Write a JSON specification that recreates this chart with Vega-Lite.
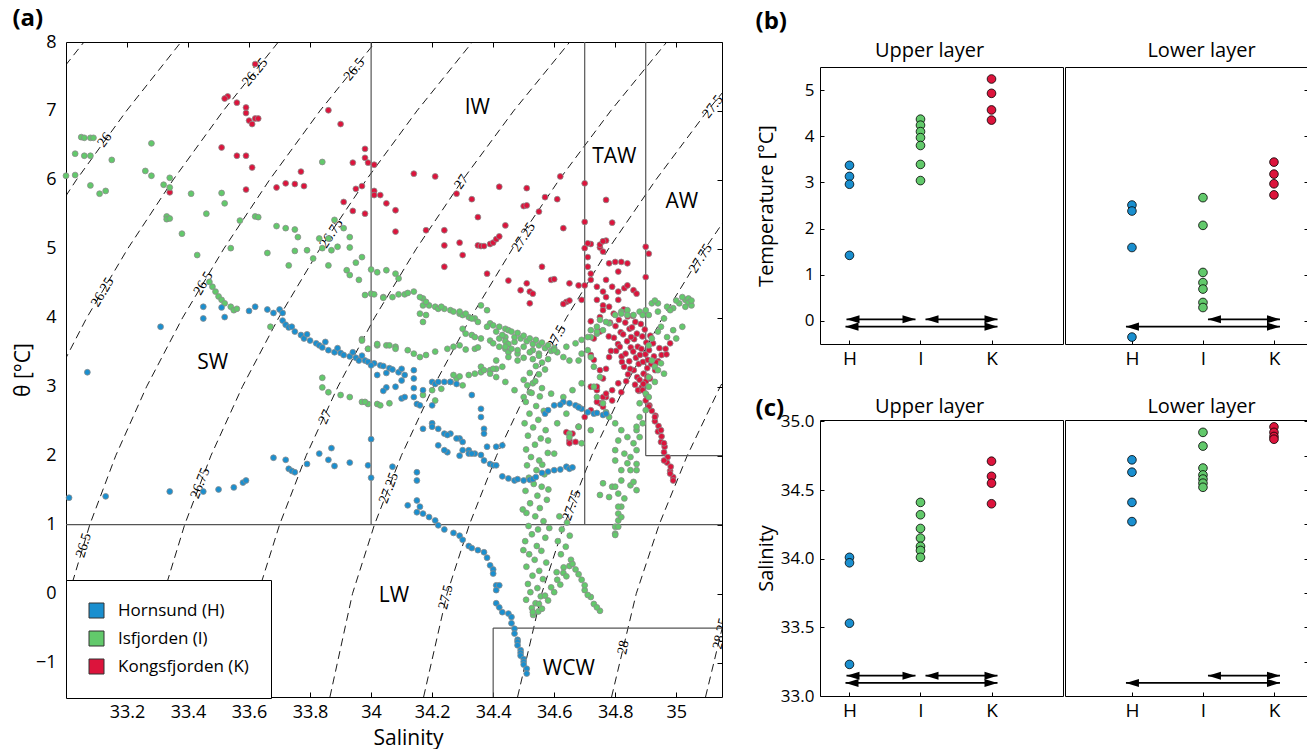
{
"$schema":"https://vega.github.io/schema/vega-lite/v6.json",
"background":"white",
"padding":{"left":11,"top":6,"right":0,"bottom":0},
"config":{
 "font":"Open Sans",
 "view":{"stroke":"black","strokeWidth":1},
 "axis":{"grid":false,"domain":false,"labelColor":"black","titleColor":"black","tickColor":"black","labelFont":"Open Sans","titleFont":"Open Sans","titleFontWeight":"normal"},
 "title":{"font":"Open Sans","color":"black"}
},
"datasets":{
 "iso":[
  {"sig":"25.75","s":32.718,"t":6},{"sig":"25.75","s":32.88,"t":7},{"sig":"25.75","s":33.059,"t":8},
  {"sig":"26","s":32.753,"t":4},{"sig":"26","s":32.886,"t":5},{"sig":"26","s":33.034,"t":6},{"sig":"26","s":33.198,"t":7},{"sig":"26","s":33.377,"t":8},
  {"sig":"26.25","s":32.851,"t":2},{"sig":"26.25","s":32.951,"t":3},{"sig":"26.25","s":33.068,"t":4},{"sig":"26.25","s":33.202,"t":5},{"sig":"26.25","s":33.351,"t":6},{"sig":"26.25","s":33.515,"t":7},{"sig":"26.25","s":33.696,"t":8},
  {"sig":"26.5","s":32.941,"t":-1.5},{"sig":"26.5","s":33.01,"t":0},{"sig":"26.5","s":33.078,"t":1},{"sig":"26.5","s":33.163,"t":2},{"sig":"26.5","s":33.264,"t":3},{"sig":"26.5","s":33.382,"t":4},{"sig":"26.5","s":33.517,"t":5},{"sig":"26.5","s":33.667,"t":6},{"sig":"26.5","s":33.832,"t":7},{"sig":"26.5","s":34.014,"t":8},
  {"sig":"26.75","s":33.249,"t":-1.5},{"sig":"26.75","s":33.32,"t":0},{"sig":"26.75","s":33.389,"t":1},{"sig":"26.75","s":33.475,"t":2},{"sig":"26.75","s":33.578,"t":3},{"sig":"26.75","s":33.697,"t":4},{"sig":"26.75","s":33.832,"t":5},{"sig":"26.75","s":33.984,"t":6},{"sig":"26.75","s":34.15,"t":7},{"sig":"26.75","s":34.332,"t":8},
  {"sig":"27","s":33.557,"t":-1.5},{"sig":"27","s":33.629,"t":0},{"sig":"27","s":33.7,"t":1},{"sig":"27","s":33.787,"t":2},{"sig":"27","s":33.891,"t":3},{"sig":"27","s":34.011,"t":4},{"sig":"27","s":34.148,"t":5},{"sig":"27","s":34.3,"t":6},{"sig":"27","s":34.467,"t":7},{"sig":"27","s":34.651,"t":8},
  {"sig":"27.25","s":33.865,"t":-1.5},{"sig":"27.25","s":33.939,"t":0},{"sig":"27.25","s":34.011,"t":1},{"sig":"27.25","s":34.099,"t":2},{"sig":"27.25","s":34.204,"t":3},{"sig":"27.25","s":34.326,"t":4},{"sig":"27.25","s":34.463,"t":5},{"sig":"27.25","s":34.616,"t":6},{"sig":"27.25","s":34.785,"t":7},{"sig":"27.25","s":34.969,"t":8},
  {"sig":"27.5","s":34.172,"t":-1.5},{"sig":"27.5","s":34.249,"t":0},{"sig":"27.5","s":34.322,"t":1},{"sig":"27.5","s":34.411,"t":2},{"sig":"27.5","s":34.518,"t":3},{"sig":"27.5","s":34.64,"t":4},{"sig":"27.5","s":34.778,"t":5},{"sig":"27.5","s":34.933,"t":6},{"sig":"27.5","s":35.102,"t":7},{"sig":"27.5","s":35.288,"t":8},
  {"sig":"27.75","s":34.48,"t":-1.5},{"sig":"27.75","s":34.559,"t":0},{"sig":"27.75","s":34.633,"t":1},{"sig":"27.75","s":34.723,"t":2},{"sig":"27.75","s":34.831,"t":3},{"sig":"27.75","s":34.955,"t":4},{"sig":"27.75","s":35.094,"t":5},{"sig":"27.75","s":35.249,"t":6},
  {"sig":"28","s":34.788,"t":-1.5},{"sig":"28","s":34.869,"t":0},{"sig":"28","s":34.944,"t":1},{"sig":"28","s":35.036,"t":2},{"sig":"28","s":35.144,"t":3},{"sig":"28","s":35.269,"t":4},
  {"sig":"28.25","s":35.096,"t":-1.5},{"sig":"28.25","s":35.178,"t":0}
 ],
 "isolab":[
  {"lab":"26","s":33.127,"t":6.58},{"lab":"26.25","s":33.62,"t":7.56},{"lab":"26.25","s":33.12,"t":4.37},
  {"lab":"26.5","s":33.945,"t":7.6},{"lab":"26.5","s":33.45,"t":4.5},{"lab":"26.5","s":33.058,"t":0.7},
  {"lab":"26.75","s":33.87,"t":5.22},{"lab":"26.75","s":33.44,"t":1.6},
  {"lab":"27","s":34.296,"t":5.97},{"lab":"27","s":33.85,"t":2.56},
  {"lab":"27.25","s":34.5,"t":5.17},{"lab":"27.25","s":34.058,"t":1.53},
  {"lab":"27.5","s":35.12,"t":7.06},{"lab":"27.5","s":34.608,"t":3.72},{"lab":"27.5","s":34.245,"t":-0.05},
  {"lab":"27.75","s":35.08,"t":4.86},{"lab":"27.75","s":34.658,"t":1.28},
  {"lab":"28","s":34.827,"t":-0.78},{"lab":"28.25","s":35.146,"t":-0.58}
 ],
 "box":[
  {"s":33,"s2":35.15,"t":1,"t2":1},{"s":34,"s2":34,"t":1,"t2":8},{"s":34.7,"s2":34.7,"t":1,"t2":8},
  {"s":34.9,"s2":34.9,"t":2,"t2":8},{"s":34.9,"s2":35.15,"t":2,"t2":2},
  {"s":34.4,"s2":34.4,"t":-1.5,"t2":-0.5},{"s":34.4,"s2":35.15,"t":-0.5,"t2":-0.5}
 ],
 "wm":[
  {"name":"IW","s":34.348,"t":7.04},{"name":"TAW","s":34.797,"t":6.33},{"name":"AW","s":35.018,"t":5.68},
  {"name":"SW","s":33.481,"t":3.34},{"name":"LW","s":34.075,"t":-0.03},{"name":"WCW","s":34.648,"t":-1.09}
 ],
 "pts":[
  {"p":"bU","f":"H","v":3.37},{"p":"bU","f":"H","v":3.13},{"p":"bU","f":"H","v":2.96},{"p":"bU","f":"H","v":1.42},
  {"p":"bU","f":"I","v":4.37},{"p":"bU","f":"I","v":4.24},{"p":"bU","f":"I","v":4.1},{"p":"bU","f":"I","v":3.97},{"p":"bU","f":"I","v":3.8},{"p":"bU","f":"I","v":3.39},{"p":"bU","f":"I","v":3.04},
  {"p":"bU","f":"K","v":5.24},{"p":"bU","f":"K","v":4.93},{"p":"bU","f":"K","v":4.57},{"p":"bU","f":"K","v":4.35},
  {"p":"bL","f":"H","v":2.51},{"p":"bL","f":"H","v":2.38},{"p":"bL","f":"H","v":1.59},{"p":"bL","f":"H","v":-0.35},
  {"p":"bL","f":"I","v":2.67},{"p":"bL","f":"I","v":2.07},{"p":"bL","f":"I","v":1.05},{"p":"bL","f":"I","v":0.83},{"p":"bL","f":"I","v":0.69},{"p":"bL","f":"I","v":0.4},{"p":"bL","f":"I","v":0.29},
  {"p":"bL","f":"K","v":3.44},{"p":"bL","f":"K","v":3.18},{"p":"bL","f":"K","v":2.97},{"p":"bL","f":"K","v":2.73},
  {"p":"cU","f":"H","v":34.01},{"p":"cU","f":"H","v":33.97},{"p":"cU","f":"H","v":33.53},{"p":"cU","f":"H","v":33.23},
  {"p":"cU","f":"I","v":34.41},{"p":"cU","f":"I","v":34.32},{"p":"cU","f":"I","v":34.22},{"p":"cU","f":"I","v":34.15},{"p":"cU","f":"I","v":34.09},{"p":"cU","f":"I","v":34.06},{"p":"cU","f":"I","v":34.01},
  {"p":"cU","f":"K","v":34.71},{"p":"cU","f":"K","v":34.6},{"p":"cU","f":"K","v":34.55},{"p":"cU","f":"K","v":34.4},
  {"p":"cL","f":"H","v":34.72},{"p":"cL","f":"H","v":34.63},{"p":"cL","f":"H","v":34.41},{"p":"cL","f":"H","v":34.27},
  {"p":"cL","f":"I","v":34.92},{"p":"cL","f":"I","v":34.82},{"p":"cL","f":"I","v":34.66},{"p":"cL","f":"I","v":34.61},{"p":"cL","f":"I","v":34.58},{"p":"cL","f":"I","v":34.55},{"p":"cL","f":"I","v":34.52},
  {"p":"cL","f":"K","v":34.96},{"p":"cL","f":"K","v":34.92},{"p":"cL","f":"K","v":34.89},{"p":"cL","f":"K","v":34.87}
 ],
 "arr":[
  {"p":"bU","ty":"HI","a":"H","b":"I","y":0.035},{"p":"bU","ty":"IK","a":"I","b":"K","y":0.035},{"p":"bU","ty":"HK","a":"H","b":"K","y":-0.124},
  {"p":"bL","ty":"IK","a":"I","b":"K","y":0.035},{"p":"bL","ty":"HK","a":"H","b":"K","y":-0.124},
  {"p":"cU","ty":"HI","a":"H","b":"I","y":33.148},{"p":"cU","ty":"IK","a":"I","b":"K","y":33.148},{"p":"cU","ty":"HK","a":"H","b":"K","y":33.095},
  {"p":"cL","ty":"IK","a":"I","b":"K","y":33.148},{"p":"cL","ty":"HK","a":"H","b":"K","y":33.095}
 ]
},
"spacing":31,
"hconcat":[
 {
  "width":656,"height":655,
  "title":{"text":"(a)","anchor":"start","frame":"bounds","fontSize":24,"fontWeight":"bold","offset":2},
  "resolve":{"axis":{"x":"independent","y":"independent"}},
  "layer":[
   {"data":{"name":"iso"},"mark":{"type":"line","clip":true,"color":"black","strokeWidth":0.9,"strokeDash":[8,5]},
    "encoding":{
     "x":{"field":"s","type":"quantitative","scale":{"domain":[33,35.15],"nice":false,"zero":false},"axis":{"orient":"bottom","values":[33.2,33.4,33.6,33.8,34,34.2,34.4,34.6,34.8,35],"format":"~g","title":"Salinity","labelFontSize":18,"titleFontSize":21,"tickSize":-5,"labelPadding":11,"titlePadding":6,"titleX":342}},
     "y":{"field":"t","type":"quantitative","scale":{"domain":[-1.5,8],"nice":false,"zero":false},"axis":{"orient":"left","values":[-1,0,1,2,3,4,5,6,7,8],"ticks":false,"labelPadding":10,"labelFontSize":18,"title":"θ [°C]","titleFontSize":21,"titlePadding":2}},
     "detail":{"field":"sig","type":"nominal"}
    }},
   {"data":{"name":"box"},"mark":{"type":"rule","color":"#555555","strokeWidth":1.2},
    "encoding":{
     "x":{"field":"s","type":"quantitative","axis":{"orient":"top","values":[33.2,33.4,33.6,33.8,34,34.2,34.4,34.6,34.8,35],"labels":false,"tickSize":-5,"title":null}},
     "x2":{"field":"s2"},
     "y":{"field":"t","type":"quantitative","axis":{"orient":"right","values":[-1,0,1,2,3,4,5,6,7,8],"labels":false,"tickSize":-5,"title":null}},
     "y2":{"field":"t2"}
    }},
   {"data":{"name":"isolab"},"mark":{"type":"text","font":"Liberation Serif","fontSize":14,"clip":true,"baseline":"middle","align":"center","color":"black"},
    "encoding":{
     "x":{"field":"s","type":"quantitative","axis":null},
     "y":{"field":"t","type":"quantitative","axis":null},
     "text":{"field":"lab","type":"nominal"},
     "angle":{"field":"t","type":"quantitative","scale":{"domain":[-0.75,0.7,1.5,2.5,3.5,4.5,5.5,6.5,7.5],"range":[281.6,287,291,295,298,301,304,306.5,309],"clamp":true},"legend":null}
    }},
   {"data":{"values":"f,s,t\nK,33.53,7.21\nK,33.52,7.18\nK,33.56,7.12\nK,33.59,7.05\nK,33.59,6.97\nK,33.60,6.86\nK,33.61,6.81\nK,33.62,6.89\nK,33.63,6.89\nK,33.62,7.68\nK,33.51,6.47\nK,33.56,6.35\nK,33.59,6.35\nK,33.61,6.18\nK,33.59,5.86\nK,33.69,5.89\nK,33.72,5.95\nK,33.75,5.94\nK,33.77,6.12\nK,33.78,5.91\nK,33.86,7.01\nK,33.90,6.81\nK,33.94,6.25\nK,33.97,5.91\nK,33.95,5.87\nK,33.98,6.45\nK,33.98,6.32\nK,33.99,6.25\nK,34.01,6.22\nK,33.91,5.68\nK,33.94,5.55\nK,33.98,5.51\nK,34.01,5.84\nK,34.01,5.78\nK,34.03,5.78\nK,34.05,5.66\nK,34.08,5.56\nK,34.08,5.25\nK,33.34,5.82\nK,34.14,6.09\nK,34.21,6.05\nK,34.28,5.80\nK,34.33,5.72\nK,34.35,5.46\nK,34.42,5.90\nK,34.51,5.88\nK,34.50,5.62\nK,34.51,5.63\nK,34.55,5.54\nK,34.57,5.75\nK,34.61,5.72\nK,34.62,6.05\nK,34.63,5.30\nK,34.70,5.95\nK,34.70,5.39\nK,34.77,5.71\nK,34.79,5.38\nK,34.77,5.12\nK,34.72,5.07\nK,34.70,5.01\nK,34.71,4.88\nK,34.75,5.02\nK,34.76,4.96\nK,34.90,5.03\nK,34.91,4.93\nK,34.18,5.27\nK,34.24,5.27\nK,34.24,5.05\nK,34.29,5.09\nK,34.30,4.91\nK,34.35,5.05\nK,34.36,5.04\nK,34.37,5.04\nK,34.39,5.07\nK,34.40,5.09\nK,34.41,5.14\nK,34.42,5.18\nK,34.44,5.34\nK,34.24,4.74\nK,34.38,4.64\nK,34.45,4.54\nK,34.49,4.40\nK,34.51,4.50\nK,34.52,4.21\nK,34.52,4.38\nK,34.53,4.35\nK,34.56,4.74\nK,34.59,4.55\nK,34.60,4.56\nK,34.65,4.50\nK,34.68,4.47\nK,34.69,4.26\nK,34.64,4.23\nK,34.65,4.25\nK,34.63,4.20\nK,34.70,4.47\nK,34.71,5.08\nK,34.75,5.06\nK,34.76,5.11\nK,34.71,4.74\nK,34.72,4.64\nK,34.72,4.55\nK,34.74,4.45\nK,34.76,4.38\nK,34.77,4.30\nK,34.78,4.79\nK,34.80,4.81\nK,34.82,4.81\nK,34.84,4.79\nK,34.81,4.67\nK,34.77,4.55\nK,34.79,4.45\nK,34.81,4.38\nK,34.83,4.43\nK,34.84,4.47\nK,34.86,4.40\nK,34.87,4.35\nK,34.74,4.26\nK,34.76,4.18\nK,34.78,4.16\nK,34.81,4.26\nK,34.76,4.11\nK,34.75,4.01\nK,34.90,4.59\nK,34.795,4.06\nK,34.812,3.97\nK,34.801,3.88\nK,34.818,3.79\nK,34.796,3.71\nK,34.809,3.62\nK,34.803,3.52\nK,34.821,3.44\nK,34.828,4.12\nK,34.841,4.02\nK,34.833,3.93\nK,34.847,3.84\nK,34.826,3.76\nK,34.839,3.66\nK,34.851,3.57\nK,34.834,3.48\nK,34.846,3.37\nK,34.829,3.29\nK,34.842,3.18\nK,34.836,3.08\nK,34.858,4.03\nK,34.866,3.94\nK,34.855,3.86\nK,34.871,3.77\nK,34.862,3.69\nK,34.874,3.58\nK,34.859,3.51\nK,34.868,3.42\nK,34.877,3.33\nK,34.861,3.24\nK,34.872,3.14\nK,34.865,3.03\nK,34.878,2.94\nK,34.884,3.91\nK,34.897,3.83\nK,34.889,3.73\nK,34.902,3.64\nK,34.886,3.55\nK,34.899,3.47\nK,34.891,3.36\nK,34.905,3.27\nK,34.893,3.19\nK,34.901,3.08\nK,34.887,2.99\nK,34.915,3.74\nK,34.924,3.63\nK,34.911,3.53\nK,34.927,3.44\nK,34.918,3.33\nK,34.931,3.24\nK,34.914,3.12\nK,34.945,3.56\nK,34.952,3.46\nK,34.941,3.37\nK,34.968,3.47\nK,34.783,3.93\nK,34.779,3.73\nK,34.786,3.52\nK,34.815,3.58\nK,34.852,3.72\nK,34.881,3.46\nK,34.907,3.39\nK,34.822,3.36\nK,34.849,3.26\nK,34.875,2.95\nK,34.905,3.15\nK,34.935,3.35\nK,34.965,3.55\nK,34.98,3.63\nK,34.88,3.10\nK,34.89,2.95\nK,34.90,2.80\nK,34.92,2.65\nK,34.93,2.50\nK,34.94,2.35\nK,34.95,2.20\nK,34.96,2.05\nK,34.97,1.90\nK,34.98,1.78\nK,34.99,1.69\nK,34.892,3.04\nK,34.902,2.88\nK,34.912,2.73\nK,34.932,2.58\nK,34.942,2.43\nK,34.952,2.28\nK,34.962,2.13\nK,34.972,1.98\nK,34.982,1.84\nK,34.91,2.71\nK,34.93,2.56\nK,34.95,2.37\nK,34.96,2.18\nK,34.96,1.93\nK,34.98,1.74\nK,34.99,1.64\nK,34.77,2.85\nK,34.75,2.76\nK,34.72,2.66\nK,34.70,2.56\nK,34.68,2.42\nK,34.66,2.32\nK,34.65,2.22\nK,34.64,2.34\nK,34.65,2.18\nK,34.67,2.20\nK,34.72,3.00\nK,34.74,2.95\nK,34.76,2.85\nK,34.74,2.78\nK,34.76,2.71\nK,34.77,2.61\nK,34.79,2.95\nK,34.81,3.05\nK,34.79,2.80\nK,34.82,2.92\nK,34.72,3.46\nK,34.73,3.39\nK,34.78,3.43\nK,34.75,3.24\nK,34.77,3.26\nK,34.76,3.12\nK,34.74,3.00\nK,34.77,2.90\nK,34.73,3.70\nK,34.75,3.80\nK,34.72,3.95\nI,33.00,6.06\nI,33.03,6.07\nI,33.03,6.38\nI,33.05,6.62\nI,33.06,6.61\nI,33.08,6.61\nI,33.09,6.61\nI,33.06,6.35\nI,33.08,6.35\nI,33.08,5.92\nI,33.11,5.80\nI,33.13,5.84\nI,33.15,6.29\nI,33.28,6.53\nI,33.26,6.13\nI,33.28,6.06\nI,33.34,6.03\nI,33.32,5.93\nI,33.34,5.89\nI,33.33,5.47\nI,33.33,5.43\nI,33.34,5.44\nI,33.38,5.22\nI,33.41,5.80\nI,33.43,4.91\nI,33.46,5.51\nI,33.51,5.81\nI,33.52,5.66\nI,33.54,5.01\nI,33.57,5.41\nI,33.62,5.47\nI,33.63,5.46\nI,33.66,4.94\nI,33.69,5.33\nI,33.72,5.30\nI,33.75,5.28\nI,33.76,5.17\nI,33.75,4.97\nI,33.79,4.98\nI,33.81,4.86\nI,33.83,5.15\nI,33.84,5.01\nI,33.84,6.26\nI,33.86,5.15\nI,33.87,4.98\nI,33.88,5.42\nI,33.89,5.03\nI,33.91,5.30\nI,33.93,5.17\nI,33.93,5.02\nI,33.97,4.88\nI,33.47,4.52\nI,33.48,4.45\nI,33.49,4.38\nI,33.50,4.31\nI,33.51,4.26\nI,33.52,4.21\nI,33.54,4.16\nI,33.55,4.11\nI,33.56,4.13\nI,33.67,3.87\nI,33.73,4.76\nI,33.86,4.76\nI,33.92,4.69\nI,33.93,4.62\nI,33.96,4.55\nI,33.98,4.33\nI,34.00,4.35\nI,34.04,4.30\nI,34.07,4.30\nI,34.05,4.69\nI,34.08,4.64\nI,34.09,4.57\nI,33.95,4.80\nI,34.00,4.70\nI,34.02,4.66\nI,33.84,3.13\nI,33.84,2.99\nI,33.86,2.92\nI,33.90,2.88\nI,33.93,2.85\nI,33.97,3.69\nI,33.99,3.55\nI,34.02,3.60\nI,34.05,3.60\nI,33.97,2.78\nI,33.99,2.75\nI,34.02,2.75\nI,34.06,2.76\nI,34.08,3.58\nI,34.01,4.34\nI,34.04,4.29\nI,34.09,4.34\nI,34.11,4.34\nI,34.12,4.36\nI,34.14,4.38\nI,34.17,4.28\nI,34.17,4.18\nI,34.19,4.18\nI,34.21,4.16\nI,34.22,4.13\nI,34.24,4.13\nI,34.26,4.11\nI,34.27,4.09\nI,34.29,4.06\nI,34.30,4.04\nI,34.32,4.01\nI,34.34,3.99\nI,34.36,4.18\nI,34.38,4.11\nI,34.39,3.92\nI,34.40,3.89\nI,34.42,3.87\nI,34.44,3.84\nI,34.45,3.82\nI,34.16,4.06\nI,34.18,4.04\nI,34.17,3.94\nI,34.30,3.84\nI,34.31,3.77\nI,34.33,3.75\nI,34.34,3.72\nI,34.36,3.70\nI,34.39,3.67\nI,34.40,3.63\nI,34.42,3.58\nI,34.44,3.55\nI,34.45,3.50\nI,34.32,3.17\nI,34.34,3.19\nI,34.36,3.21\nI,34.39,3.24\nI,34.41,3.26\nI,34.43,3.29\nI,34.06,3.60\nI,34.08,3.55\nI,34.12,3.53\nI,34.14,3.48\nI,34.16,3.43\nI,34.18,3.46\nI,34.21,3.51\nI,34.25,3.55\nI,34.27,3.58\nI,34.29,3.60\nI,34.31,3.54\nI,34.34,3.55\nI,34.35,3.57\nI,33.99,3.55\nI,34.02,3.62\nI,33.97,3.67\nI,33.98,2.78\nI,34.03,2.73\nI,34.17,2.88\nI,34.20,2.95\nI,34.23,2.97\nI,34.26,3.07\nI,34.28,3.12\nI,34.30,3.02\nI,34.21,2.80\nI,34.16,4.30\nI,34.18,4.23\nI,34.23,4.16\nI,34.29,4.09\nI,34.31,4.06\nI,34.33,3.99\nI,34.35,3.94\nI,34.38,3.87\nI,34.41,3.80\nI,34.44,3.72\nI,34.47,3.65\nI,34.50,3.58\nI,34.53,3.53\nI,34.55,3.48\nI,34.46,3.80\nI,34.47,3.72\nI,34.48,3.78\nI,34.49,3.70\nI,34.50,3.74\nI,34.51,3.66\nI,34.52,3.70\nI,34.53,3.62\nI,34.54,3.68\nI,34.55,3.60\nI,34.56,3.64\nI,34.57,3.56\nI,34.58,3.60\nI,34.59,3.52\nI,34.60,3.56\nI,34.61,3.50\nI,34.46,3.55\nI,34.48,3.48\nI,34.50,3.42\nI,34.52,3.50\nI,34.53,3.40\nI,34.55,3.45\nI,34.56,3.35\nI,34.58,3.40\nI,34.54,3.30\nI,34.52,3.20\nI,34.55,3.18\nI,34.57,3.25\nI,34.50,3.10\nI,34.53,3.05\nI,34.56,2.98\nI,34.52,2.92\nI,34.42,3.70\nI,34.44,3.66\nI,34.43,3.75\nI,34.45,3.62\nI,34.36,3.29\nI,34.39,3.19\nI,34.41,3.14\nI,34.44,3.07\nI,34.47,2.95\nI,34.50,2.85\nI,34.41,3.38\nI,34.45,3.43\nI,34.48,3.38\nI,34.44,3.58\nI,34.48,3.53\nI,34.27,3.17\nI,34.29,3.15\nI,34.37,3.24\nI,34.40,3.26\nI,34.60,3.53\nI,34.63,3.43\nI,34.65,3.38\nI,34.68,3.38\nI,34.69,3.48\nI,34.71,3.53\nI,34.74,3.77\nI,34.76,3.82\nI,34.64,3.58\nI,34.67,3.63\nI,34.69,3.68\nI,34.72,3.72\nI,34.74,3.80\nI,34.78,3.92\nI,34.80,4.04\nI,34.82,4.09\nI,34.84,4.11\nI,34.88,4.09\nI,34.90,4.11\nI,34.92,4.21\nI,34.94,4.21\nI,34.97,4.16\nI,35.01,4.21\nI,35.03,4.26\nI,35.04,4.28\nI,35.00,4.25\nI,35.02,4.30\nI,35.04,4.22\nI,35.05,4.18\nI,34.99,4.14\nI,34.93,4.25\nI,34.94,4.09\nI,34.96,3.99\nI,34.95,3.87\nI,34.94,3.80\nI,34.92,3.70\nI,34.91,3.60\nI,34.98,4.11\nI,35.00,3.70\nI,35.02,3.87\nI,35.05,4.25\nI,35.03,4.16\nI,34.99,3.82\nI,34.97,3.72\nI,34.92,3.38\nI,34.93,3.29\nI,34.94,3.24\nI,34.95,3.34\nI,34.96,3.19\nI,34.91,3.14\nI,34.93,3.07\nI,34.82,4.06\nI,34.84,4.04\nI,34.86,4.04\nI,34.89,4.04\nI,34.91,4.04\nI,34.75,3.97\nI,34.72,3.82\nI,34.71,3.72\nI,34.74,3.87\nI,34.77,3.94\nI,34.72,3.43\nI,34.73,3.29\nI,34.75,3.14\nI,34.73,3.00\nI,34.74,2.85\nI,34.76,2.76\nI,34.77,2.63\nI,34.78,2.56\nI,34.80,2.47\nI,34.82,2.37\nI,34.81,2.22\nI,34.80,2.08\nI,34.80,1.93\nI,34.82,1.79\nI,34.91,3.00\nI,34.90,2.90\nI,34.88,2.76\nI,34.88,2.56\nI,34.87,2.37\nI,34.86,2.18\nI,34.85,1.98\nI,34.85,1.79\nI,34.91,2.85\nI,34.90,2.66\nI,34.89,2.47\nI,34.88,2.27\nI,34.87,2.08\nI,34.87,1.88\nI,34.76,1.60\nI,34.79,1.55\nI,34.81,1.45\nI,34.83,1.38\nI,34.82,1.26\nI,34.81,1.16\nI,34.81,1.06\nI,34.80,0.97\nI,34.80,0.87\nI,34.85,1.57\nI,34.87,1.50\nI,34.86,1.62\nI,34.75,1.43\nI,34.83,2.03\nI,34.84,1.89\nI,34.87,1.79\nI,34.82,1.64\nI,34.80,1.55\nI,34.78,1.40\nI,34.81,1.26\nI,34.82,1.11\nI,34.81,0.97\nI,34.80,0.85\nI,34.84,2.27\nI,34.87,2.42\nI,34.512,3.02\nI,34.538,3.08\nI,34.526,2.91\nI,34.553,2.86\nI,34.507,2.78\nI,34.541,2.72\nI,34.566,2.65\nI,34.519,2.61\nI,34.548,2.52\nI,34.503,2.47\nI,34.531,2.41\nI,34.572,2.37\nI,34.514,2.29\nI,34.556,2.25\nI,34.537,2.16\nI,34.508,2.09\nI,34.579,2.04\nI,34.524,1.98\nI,34.551,1.93\nI,34.511,1.86\nI,34.542,1.79\nI,34.568,1.73\nI,34.517,1.68\nI,34.533,1.59\nI,34.559,1.55\nI,34.506,1.49\nI,34.545,1.42\nI,34.576,1.36\nI,34.521,1.31\nI,34.553,1.24\nI,34.509,1.17\nI,34.538,1.12\nI,34.565,1.05\nI,34.516,0.98\nI,34.547,0.93\nI,34.527,0.86\nI,34.571,0.81\nI,34.505,0.76\nI,34.543,0.69\nI,34.558,0.62\nI,34.518,0.57\nI,34.536,0.49\nI,34.574,0.45\nI,34.509,0.39\nI,34.551,0.33\nI,34.529,0.26\nI,34.563,0.21\nI,34.514,0.14\nI,34.545,0.08\nI,34.522,0.02\nI,34.556,-0.04\nI,34.508,-0.09\nI,34.539,-0.14\nI,34.527,-0.21\nI,34.548,-0.26\nI,34.531,-0.31\nI,34.561,1.87\nI,34.581,1.51\nI,34.584,0.95\nI,34.497,1.22\nI,34.499,0.63\nI,34.617,1.12\nI,34.642,1.03\nI,34.625,0.93\nI,34.651,0.84\nI,34.612,0.76\nI,34.638,0.68\nI,34.622,0.57\nI,34.655,0.49\nI,34.631,0.38\nI,34.608,0.31\nI,34.53,-0.27\nI,34.55,-0.15\nI,34.57,-0.03\nI,34.59,0.09\nI,34.61,0.20\nI,34.63,0.30\nI,34.65,0.40\nI,34.66,0.43\nI,34.67,0.35\nI,34.69,0.20\nI,34.70,0.05\nI,34.72,-0.05\nI,34.73,-0.15\nI,34.75,-0.25\nI,34.56,-0.22\nI,34.58,-0.10\nI,34.60,0.02\nI,34.62,0.13\nI,34.64,0.25\nI,34.68,0.28\nI,34.70,0.12\nI,34.71,-0.02\nI,34.74,-0.20\nI,34.58,2.22\nI,34.60,2.03\nI,34.65,2.32\nI,34.68,2.42\nI,34.72,2.37\nI,34.59,2.90\nI,34.63,2.85\nI,34.66,2.95\nI,34.69,3.05\nI,34.68,2.71\nI,34.64,2.61\nI,34.61,2.47\nI,34.65,2.27\nI,34.69,2.18\nH,33.45,4.16\nH,33.45,3.99\nH,33.51,4.15\nH,33.52,4.01\nH,33.60,4.10\nH,33.62,4.16\nH,33.66,4.12\nH,33.68,4.07\nH,33.70,4.12\nH,33.71,4.07\nH,33.71,3.96\nH,33.72,3.90\nH,33.73,3.86\nH,33.74,3.87\nH,33.75,3.80\nH,33.77,3.75\nH,33.78,3.70\nH,33.79,3.76\nH,33.80,3.67\nH,33.82,3.63\nH,33.83,3.60\nH,33.84,3.57\nH,33.85,3.65\nH,33.86,3.53\nH,33.88,3.50\nH,33.89,3.56\nH,33.90,3.49\nH,33.91,3.46\nH,33.93,3.44\nH,33.94,3.50\nH,33.95,3.42\nH,33.96,3.38\nH,33.97,3.45\nH,33.98,3.38\nH,33.99,3.36\nH,34.01,3.34\nH,34.03,3.31\nH,34.04,3.30\nH,34.06,3.27\nH,34.07,3.25\nH,34.09,3.21\nH,34.05,3.20\nH,34.02,3.17\nH,34.10,3.26\nH,34.14,3.24\nH,34.11,3.17\nH,34.10,3.09\nH,34.14,3.12\nH,34.08,3.00\nH,34.14,2.98\nH,34.17,2.95\nH,34.20,3.07\nH,34.21,3.04\nH,34.22,3.07\nH,34.24,3.07\nH,34.26,3.07\nH,34.28,3.04\nH,34.10,2.83\nH,34.11,2.85\nH,34.14,2.85\nH,34.15,2.75\nH,34.16,2.73\nH,34.20,2.73\nH,34.05,2.99\nH,34.04,2.94\nH,34.00,3.31\nH,34.33,2.88\nH,34.17,2.39\nH,34.20,2.47\nH,34.20,2.42\nH,34.22,2.39\nH,34.24,2.32\nH,34.26,2.32\nH,34.29,2.25\nH,34.30,2.20\nH,34.32,2.08\nH,34.34,2.03\nH,34.36,2.01\nH,34.37,1.93\nH,34.39,1.88\nH,34.40,1.86\nH,34.22,2.15\nH,34.25,2.05\nH,34.29,2.00\nH,34.30,2.08\nH,34.32,2.03\nH,34.25,2.30\nH,34.28,2.25\nH,34.33,2.03\nH,34.41,1.86\nH,34.36,2.68\nH,34.36,2.56\nH,34.37,2.39\nH,34.37,2.32\nH,34.38,2.13\nH,34.41,2.13\nH,34.43,2.15\nH,34.43,1.70\nH,34.45,1.67\nH,34.47,1.64\nH,34.48,1.66\nH,34.50,1.64\nH,34.52,1.65\nH,34.53,1.66\nH,34.54,1.69\nH,34.56,1.75\nH,34.58,1.77\nH,34.60,1.79\nH,34.62,1.80\nH,34.64,1.84\nH,34.65,1.81\nH,34.66,1.83\nH,34.57,2.61\nH,34.58,2.66\nH,34.60,2.73\nH,34.63,2.78\nH,34.65,2.76\nH,34.67,2.73\nH,34.69,2.68\nH,34.71,2.63\nH,34.73,2.61\nH,34.76,2.59\nH,34.77,2.61\nH,34.62,2.74\nH,34.68,2.70\nH,34.74,2.62\nH,33.01,1.39\nH,33.13,1.41\nH,33.34,1.48\nH,33.45,1.48\nH,33.50,1.51\nH,33.55,1.54\nH,33.58,1.61\nH,33.59,1.64\nH,33.07,3.21\nH,33.31,3.87\nH,33.68,1.97\nH,33.72,1.94\nH,33.73,1.81\nH,33.74,1.78\nH,33.75,1.76\nH,33.79,1.88\nH,33.83,2.03\nH,33.87,2.11\nH,33.86,1.94\nH,33.88,1.85\nH,33.93,1.90\nH,34.00,2.24\nH,33.99,1.86\nH,34.00,1.68\nH,34.07,1.84\nH,34.15,1.76\nH,34.15,1.64\nH,34.24,2.08\nH,34.12,1.28\nH,34.15,1.35\nH,34.16,1.26\nH,34.15,1.18\nH,34.17,1.16\nH,34.19,1.11\nH,34.21,1.06\nH,34.22,0.99\nH,34.24,0.93\nH,34.27,0.88\nH,34.29,0.84\nH,34.30,0.78\nH,34.32,0.69\nH,34.33,0.66\nH,34.35,0.63\nH,34.37,0.60\nH,34.38,0.52\nH,34.39,0.41\nH,34.40,0.35\nH,34.40,0.29\nH,34.41,0.12\nH,34.42,0.12\nH,34.41,0.05\nH,34.41,-0.14\nH,34.42,-0.20\nH,34.43,-0.27\nH,34.45,-0.29\nH,34.46,-0.34\nH,34.46,-0.43\nH,34.47,-0.51\nH,34.47,-0.58\nH,34.48,-0.67\nH,34.48,-0.70\nH,34.48,-0.75\nH,34.49,-0.82\nH,34.49,-0.86\nH,34.49,-0.90\nH,34.50,-0.95\nH,34.50,-0.99\nH,34.50,-1.03\nH,34.51,-1.09\nH,34.51,-1.16","format":{"type":"csv","parse":{"s":"number","t":"number"}}},
    "mark":{"type":"point","filled":true,"size":34,"stroke":"#8c8c8c","strokeWidth":0.8,"opacity":1},
    "encoding":{
     "x":{"field":"s","type":"quantitative","axis":null},
     "y":{"field":"t","type":"quantitative","axis":null},
     "color":{"field":"f","type":"nominal","scale":{"domain":["H","I","K"],"range":["#1a8fcf","#62c96b","#dc143c"]},
      "legend":{"title":null,"orient":"none","legendX":0,"legendY":538,"symbolType":"square","symbolSize":225,"symbolStrokeColor":"#333333","symbolStrokeWidth":1,"symbolOpacity":1,"labelFontSize":17,"labelFont":"Open Sans","labelColor":"black","padding":22,"rowPadding":9,"labelOffset":13,"fillColor":"white","strokeColor":"black",
       "labelExpr":"datum.label == 'H' ? 'Hornsund (H)' : datum.label == 'I' ? 'Isfjorden (I)' : 'Kongsfjorden (K)'"}}
    }},
   {"data":{"name":"wm"},"mark":{"type":"text","fontSize":21,"font":"Open Sans","color":"black","baseline":"middle","align":"center"},
    "encoding":{
     "x":{"field":"s","type":"quantitative","axis":null},
     "y":{"field":"t","type":"quantitative","axis":null},
     "text":{"field":"name","type":"nominal"}
    }}
  ]
 },
 {
  "spacing":-37,
  "vconcat":[
   {"width":20,"height":1,"view":{"stroke":null},"data":{"values":[{"k":1}]},"mark":{"type":"point","opacity":0},"encoding":{}},
   {
  "spacing":27,
  "vconcat":[
   {
    "title":{"text":"(b)","anchor":"start","frame":"bounds","fontSize":24,"fontWeight":"bold","offset":7},
    "spacing":0,
    "hconcat":[
     {"width":243,"height":277,
      "title":{"text":"Upper layer","fontSize":20,"fontWeight":"normal","frame":"group","dx":-12,"offset":6},
      "resolve":{"axis":{"x":"independent","y":"independent"}},
      "layer":[
       {"data":{"name":"pts"},"transform":[{"filter":"datum.p == 'bU'"}],
        "mark":{"type":"point","filled":true,"size":75,"stroke":"black","strokeWidth":0.8,"opacity":1},
        "encoding":{
         "x":{"field":"f","type":"nominal","scale":{"type":"point","domain":["H","I","K"],"padding":0.711,"align":0.292},"axis":{"title":null,"labelAngle":0,"labelFontSize":19,"tickSize":-4,"labelPadding":9}},
         "y":{"field":"v","type":"quantitative","scale":{"domain":[-0.5,5.5],"nice":false,"zero":false},"axis":{"values":[0,1,2,3,4,5],"title":"Temperature [°C]","titleFontSize":20,"labelFontSize":17,"tickSize":-4,"labelPadding":10,"minExtent":40,"titlePadding":4}},
         "color":{"field":"f","type":"nominal","scale":{"domain":["H","I","K"],"range":["#1a8fcf","#62c96b","#dc143c"]},"legend":null}
        }},
       {"data":{"name":"arr"},"transform":[{"filter":"datum.p == 'bU' && datum.ty == 'HI'"}],"mark":{"type":"rule","color":"black","strokeWidth":1.7,"xOffset":-3,"x2Offset":-5},"encoding":{"x":{"field":"a","type":"nominal","axis":null},"x2":{"field":"b"},"y":{"field":"y","type":"quantitative","axis":null}}},
       {"data":{"name":"arr"},"transform":[{"filter":"datum.p == 'bU' && datum.ty == 'HI'"}],"mark":{"type":"point","shape":"M0,0L2,-0.62L2,0.62Z","filled":true,"color":"black","opacity":1,"size":169,"xOffset":-3},"encoding":{"x":{"field":"a","type":"nominal","axis":null},"y":{"field":"y","type":"quantitative","axis":null}}},
       {"data":{"name":"arr"},"transform":[{"filter":"datum.p == 'bU' && datum.ty == 'HI'"}],"mark":{"type":"point","shape":"M0,0L-2,-0.62L-2,0.62Z","filled":true,"color":"black","opacity":1,"size":169,"xOffset":-5},"encoding":{"x":{"field":"b","type":"nominal","axis":null},"y":{"field":"y","type":"quantitative","axis":null}}},
       {"data":{"name":"arr"},"transform":[{"filter":"datum.p == 'bU' && datum.ty == 'IK'"}],"mark":{"type":"rule","color":"black","strokeWidth":1.7,"xOffset":5,"x2Offset":6},"encoding":{"x":{"field":"a","type":"nominal","axis":null},"x2":{"field":"b"},"y":{"field":"y","type":"quantitative","axis":null}}},
       {"data":{"name":"arr"},"transform":[{"filter":"datum.p == 'bU' && datum.ty == 'IK'"}],"mark":{"type":"point","shape":"M0,0L2,-0.62L2,0.62Z","filled":true,"color":"black","opacity":1,"size":169,"xOffset":5},"encoding":{"x":{"field":"a","type":"nominal","axis":null},"y":{"field":"y","type":"quantitative","axis":null}}},
       {"data":{"name":"arr"},"transform":[{"filter":"datum.p == 'bU' && datum.ty == 'IK'"}],"mark":{"type":"point","shape":"M0,0L-2,-0.62L-2,0.62Z","filled":true,"color":"black","opacity":1,"size":169,"xOffset":6},"encoding":{"x":{"field":"b","type":"nominal","axis":null},"y":{"field":"y","type":"quantitative","axis":null}}},
       {"data":{"name":"arr"},"transform":[{"filter":"datum.p == 'bU' && datum.ty == 'HK'"}],"mark":{"type":"rule","color":"black","strokeWidth":1.7,"xOffset":-4,"x2Offset":6},"encoding":{"x":{"field":"a","type":"nominal","axis":null},"x2":{"field":"b"},"y":{"field":"y","type":"quantitative","axis":null}}},
       {"data":{"name":"arr"},"transform":[{"filter":"datum.p == 'bU' && datum.ty == 'HK'"}],"mark":{"type":"point","shape":"M0,0L2,-0.62L2,0.62Z","filled":true,"color":"black","opacity":1,"size":169,"xOffset":-4},"encoding":{"x":{"field":"a","type":"nominal","axis":null},"y":{"field":"y","type":"quantitative","axis":null}}},
       {"data":{"name":"arr"},"transform":[{"filter":"datum.p == 'bU' && datum.ty == 'HK'"}],"mark":{"type":"point","shape":"M0,0L-2,-0.62L-2,0.62Z","filled":true,"color":"black","opacity":1,"size":169,"xOffset":6},"encoding":{"x":{"field":"b","type":"nominal","axis":null},"y":{"field":"y","type":"quantitative","axis":null}}}
      ]},
     {"width":243,"height":277,
      "title":{"text":"Lower layer","fontSize":20,"fontWeight":"normal","frame":"group","dx":15,"offset":6},
      "resolve":{"axis":{"x":"independent","y":"independent"}},
      "layer":[
       {"data":{"name":"pts"},"transform":[{"filter":"datum.p == 'bL'"}],
        "mark":{"type":"point","filled":true,"size":75,"stroke":"black","strokeWidth":0.8,"opacity":1},
        "encoding":{
         "x":{"field":"f","type":"nominal","scale":{"type":"point","domain":["H","I","K"],"padding":0.711,"align":0.663},"axis":{"title":null,"labelAngle":0,"labelFontSize":19,"tickSize":-4,"labelPadding":9}},
         "y":{"field":"v","type":"quantitative","scale":{"domain":[-0.5,5.5],"nice":false,"zero":false},"axis":{"orient":"right","values":[0,1,2,3,4,5],"labels":false,"tickSize":-4,"title":null}},
         "color":{"field":"f","type":"nominal","scale":{"domain":["H","I","K"],"range":["#1a8fcf","#62c96b","#dc143c"]},"legend":null}
        }},
       {"data":{"name":"arr"},"transform":[{"filter":"datum.p == 'bL' && datum.ty == 'IK'"}],"mark":{"type":"rule","color":"black","strokeWidth":1.7,"xOffset":5,"x2Offset":6},"encoding":{"x":{"field":"a","type":"nominal","axis":null},"x2":{"field":"b"},"y":{"field":"y","type":"quantitative","axis":null}}},
       {"data":{"name":"arr"},"transform":[{"filter":"datum.p == 'bL' && datum.ty == 'IK'"}],"mark":{"type":"point","shape":"M0,0L2,-0.62L2,0.62Z","filled":true,"color":"black","opacity":1,"size":169,"xOffset":5},"encoding":{"x":{"field":"a","type":"nominal","axis":null},"y":{"field":"y","type":"quantitative","axis":null}}},
       {"data":{"name":"arr"},"transform":[{"filter":"datum.p == 'bL' && datum.ty == 'IK'"}],"mark":{"type":"point","shape":"M0,0L-2,-0.62L-2,0.62Z","filled":true,"color":"black","opacity":1,"size":169,"xOffset":6},"encoding":{"x":{"field":"b","type":"nominal","axis":null},"y":{"field":"y","type":"quantitative","axis":null}}},
       {"data":{"name":"arr"},"transform":[{"filter":"datum.p == 'bL' && datum.ty == 'HK'"}],"mark":{"type":"rule","color":"black","strokeWidth":1.7,"xOffset":-6,"x2Offset":6},"encoding":{"x":{"field":"a","type":"nominal","axis":null},"x2":{"field":"b"},"y":{"field":"y","type":"quantitative","axis":null}}},
       {"data":{"name":"arr"},"transform":[{"filter":"datum.p == 'bL' && datum.ty == 'HK'"}],"mark":{"type":"point","shape":"M0,0L2,-0.62L2,0.62Z","filled":true,"color":"black","opacity":1,"size":169,"xOffset":-6},"encoding":{"x":{"field":"a","type":"nominal","axis":null},"y":{"field":"y","type":"quantitative","axis":null}}},
       {"data":{"name":"arr"},"transform":[{"filter":"datum.p == 'bL' && datum.ty == 'HK'"}],"mark":{"type":"point","shape":"M0,0L-2,-0.62L-2,0.62Z","filled":true,"color":"black","opacity":1,"size":169,"xOffset":6},"encoding":{"x":{"field":"b","type":"nominal","axis":null},"y":{"field":"y","type":"quantitative","axis":null}}}
      ]}
    ]
   },
   {
    "title":{"text":"(c)","anchor":"start","frame":"bounds","fontSize":24,"fontWeight":"bold","offset":-24},
    "spacing":0,
    "hconcat":[
     {"width":243,"height":276,
      "title":{"text":"Upper layer","fontSize":20,"fontWeight":"normal","frame":"group","dx":-12,"offset":-5},
      "resolve":{"axis":{"x":"independent","y":"independent"}},
      "layer":[
       {"data":{"name":"pts"},"transform":[{"filter":"datum.p == 'cU'"}],
        "mark":{"type":"point","filled":true,"size":75,"stroke":"black","strokeWidth":0.8,"opacity":1},
        "encoding":{
         "x":{"field":"f","type":"nominal","scale":{"type":"point","domain":["H","I","K"],"padding":0.711,"align":0.292},"axis":{"title":null,"labelAngle":0,"labelFontSize":19,"tickSize":-4,"labelPadding":9}},
         "y":{"field":"v","type":"quantitative","scale":{"domain":[33,35.01],"nice":false,"zero":false},"axis":{"values":[33,33.5,34,34.5,35],"format":".1f","title":"Salinity","titleFontSize":20,"labelFontSize":17,"tickSize":-4,"labelPadding":10,"minExtent":40,"titlePadding":4}},
         "color":{"field":"f","type":"nominal","scale":{"domain":["H","I","K"],"range":["#1a8fcf","#62c96b","#dc143c"]},"legend":null}
        }},
       {"data":{"name":"arr"},"transform":[{"filter":"datum.p == 'cU' && datum.ty == 'HI'"}],"mark":{"type":"rule","color":"black","strokeWidth":1.7,"xOffset":-3,"x2Offset":-5},"encoding":{"x":{"field":"a","type":"nominal","axis":null},"x2":{"field":"b"},"y":{"field":"y","type":"quantitative","axis":null}}},
       {"data":{"name":"arr"},"transform":[{"filter":"datum.p == 'cU' && datum.ty == 'HI'"}],"mark":{"type":"point","shape":"M0,0L2,-0.62L2,0.62Z","filled":true,"color":"black","opacity":1,"size":169,"xOffset":-3},"encoding":{"x":{"field":"a","type":"nominal","axis":null},"y":{"field":"y","type":"quantitative","axis":null}}},
       {"data":{"name":"arr"},"transform":[{"filter":"datum.p == 'cU' && datum.ty == 'HI'"}],"mark":{"type":"point","shape":"M0,0L-2,-0.62L-2,0.62Z","filled":true,"color":"black","opacity":1,"size":169,"xOffset":-5},"encoding":{"x":{"field":"b","type":"nominal","axis":null},"y":{"field":"y","type":"quantitative","axis":null}}},
       {"data":{"name":"arr"},"transform":[{"filter":"datum.p == 'cU' && datum.ty == 'IK'"}],"mark":{"type":"rule","color":"black","strokeWidth":1.7,"xOffset":5,"x2Offset":6},"encoding":{"x":{"field":"a","type":"nominal","axis":null},"x2":{"field":"b"},"y":{"field":"y","type":"quantitative","axis":null}}},
       {"data":{"name":"arr"},"transform":[{"filter":"datum.p == 'cU' && datum.ty == 'IK'"}],"mark":{"type":"point","shape":"M0,0L2,-0.62L2,0.62Z","filled":true,"color":"black","opacity":1,"size":169,"xOffset":5},"encoding":{"x":{"field":"a","type":"nominal","axis":null},"y":{"field":"y","type":"quantitative","axis":null}}},
       {"data":{"name":"arr"},"transform":[{"filter":"datum.p == 'cU' && datum.ty == 'IK'"}],"mark":{"type":"point","shape":"M0,0L-2,-0.62L-2,0.62Z","filled":true,"color":"black","opacity":1,"size":169,"xOffset":6},"encoding":{"x":{"field":"b","type":"nominal","axis":null},"y":{"field":"y","type":"quantitative","axis":null}}},
       {"data":{"name":"arr"},"transform":[{"filter":"datum.p == 'cU' && datum.ty == 'HK'"}],"mark":{"type":"rule","color":"black","strokeWidth":1.7,"xOffset":-4,"x2Offset":6},"encoding":{"x":{"field":"a","type":"nominal","axis":null},"x2":{"field":"b"},"y":{"field":"y","type":"quantitative","axis":null}}},
       {"data":{"name":"arr"},"transform":[{"filter":"datum.p == 'cU' && datum.ty == 'HK'"}],"mark":{"type":"point","shape":"M0,0L2,-0.62L2,0.62Z","filled":true,"color":"black","opacity":1,"size":169,"xOffset":-4},"encoding":{"x":{"field":"a","type":"nominal","axis":null},"y":{"field":"y","type":"quantitative","axis":null}}},
       {"data":{"name":"arr"},"transform":[{"filter":"datum.p == 'cU' && datum.ty == 'HK'"}],"mark":{"type":"point","shape":"M0,0L-2,-0.62L-2,0.62Z","filled":true,"color":"black","opacity":1,"size":169,"xOffset":6},"encoding":{"x":{"field":"b","type":"nominal","axis":null},"y":{"field":"y","type":"quantitative","axis":null}}}
      ]},
     {"width":243,"height":276,
      "title":{"text":"Lower layer","fontSize":20,"fontWeight":"normal","frame":"group","dx":15,"offset":3},
      "resolve":{"axis":{"x":"independent","y":"independent"}},
      "layer":[
       {"data":{"name":"pts"},"transform":[{"filter":"datum.p == 'cL'"}],
        "mark":{"type":"point","filled":true,"size":75,"stroke":"black","strokeWidth":0.8,"opacity":1},
        "encoding":{
         "x":{"field":"f","type":"nominal","scale":{"type":"point","domain":["H","I","K"],"padding":0.711,"align":0.663},"axis":{"title":null,"labelAngle":0,"labelFontSize":19,"tickSize":-4,"labelPadding":9}},
         "y":{"field":"v","type":"quantitative","scale":{"domain":[33,35.01],"nice":false,"zero":false},"axis":{"orient":"right","values":[33,33.25,33.5,33.75,34,34.25,34.5,34.75,35],"labels":false,"tickSize":-4,"title":null}},
         "color":{"field":"f","type":"nominal","scale":{"domain":["H","I","K"],"range":["#1a8fcf","#62c96b","#dc143c"]},"legend":null}
        }},
       {"data":{"name":"arr"},"transform":[{"filter":"datum.p == 'cL' && datum.ty == 'IK'"}],"mark":{"type":"rule","color":"black","strokeWidth":1.7,"xOffset":5,"x2Offset":6},"encoding":{"x":{"field":"a","type":"nominal","axis":null},"x2":{"field":"b"},"y":{"field":"y","type":"quantitative","axis":null}}},
       {"data":{"name":"arr"},"transform":[{"filter":"datum.p == 'cL' && datum.ty == 'IK'"}],"mark":{"type":"point","shape":"M0,0L2,-0.62L2,0.62Z","filled":true,"color":"black","opacity":1,"size":169,"xOffset":5},"encoding":{"x":{"field":"a","type":"nominal","axis":null},"y":{"field":"y","type":"quantitative","axis":null}}},
       {"data":{"name":"arr"},"transform":[{"filter":"datum.p == 'cL' && datum.ty == 'IK'"}],"mark":{"type":"point","shape":"M0,0L-2,-0.62L-2,0.62Z","filled":true,"color":"black","opacity":1,"size":169,"xOffset":6},"encoding":{"x":{"field":"b","type":"nominal","axis":null},"y":{"field":"y","type":"quantitative","axis":null}}},
       {"data":{"name":"arr"},"transform":[{"filter":"datum.p == 'cL' && datum.ty == 'HK'"}],"mark":{"type":"rule","color":"black","strokeWidth":1.7,"xOffset":-6,"x2Offset":6},"encoding":{"x":{"field":"a","type":"nominal","axis":null},"x2":{"field":"b"},"y":{"field":"y","type":"quantitative","axis":null}}},
       {"data":{"name":"arr"},"transform":[{"filter":"datum.p == 'cL' && datum.ty == 'HK'"}],"mark":{"type":"point","shape":"M0,0L2,-0.62L2,0.62Z","filled":true,"color":"black","opacity":1,"size":169,"xOffset":-6},"encoding":{"x":{"field":"a","type":"nominal","axis":null},"y":{"field":"y","type":"quantitative","axis":null}}},
       {"data":{"name":"arr"},"transform":[{"filter":"datum.p == 'cL' && datum.ty == 'HK'"}],"mark":{"type":"point","shape":"M0,0L-2,-0.62L-2,0.62Z","filled":true,"color":"black","opacity":1,"size":169,"xOffset":6},"encoding":{"x":{"field":"b","type":"nominal","axis":null},"y":{"field":"y","type":"quantitative","axis":null}}}
      ]}
    ]
   }
  ]
   }
  ]
 }
]
}
